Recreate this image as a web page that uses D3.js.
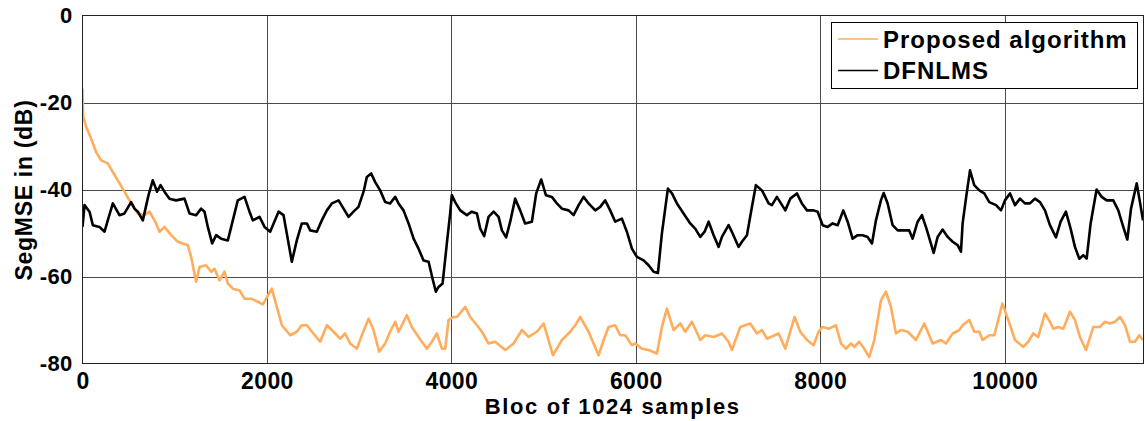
<!DOCTYPE html>
<html>
<head>
<meta charset="utf-8">
<script src="https://cdn.jsdelivr.net/npm/d3@7"></script>
<style>
  html, body { margin: 0; padding: 0; background: #fff; }
  svg { display: block; }
  text { font-family: "Liberation Sans", Arial, sans-serif; font-weight: bold; fill: #000; }
</style>
</head>
<body>
<svg id="chart" width="1145" height="421"></svg>
<script>
// Axis ticks
const xTicks = [0, 2000, 4000, 6000, 8000, 10000];
const yTicks = [0, -20, -40, -60, -80];
const xMax = 11500;

// Series labels
const seriesNames = ["Proposed algorithm", "DFNLMS"];

// SegMSE (dB) per block: [block index, value]
const proposed = [
  [0,-16.8],[8,-23.3],[39,-25.6],[93,-28.3],[148,-31.4],[202,-33.3],[274,-34.0],[329,-36.0],[401,-38.6],[455,-40.5],
  [527,-43.2],[600,-45.5],[672,-45.9],[727,-45.1],[798,-47.8],[835,-49.7],[889,-48.6],[961,-50.5],[1034,-52.0],[1088,-52.4],
  [1142,-52.8],[1178,-55.5],[1232,-61.2],[1269,-57.8],[1341,-57.4],[1395,-58.9],[1432,-58.2],[1486,-60.9],[1540,-58.9],[1576,-61.6],
  [1630,-62.8],[1703,-63.2],[1757,-65.1],[1829,-65.1],[1901,-65.8],[1956,-66.4],[2053,-62.8],[2107,-67.0],[2162,-71.2],[2252,-73.5],
  [2324,-72.7],[2378,-71.2],[2433,-71.2],[2487,-72.7],[2577,-75.0],[2650,-71.2],[2722,-72.7],[2794,-74.3],[2848,-73.1],[2902,-75.4],
  [2975,-76.6],[3029,-73.5],[3102,-69.7],[3156,-72.3],[3217,-77.3],[3282,-75.4],[3336,-72.7],[3391,-70.4],[3427,-72.7],[3463,-71.2],
  [3517,-68.9],[3571,-71.6],[3644,-73.9],[3734,-76.6],[3788,-75.0],[3843,-73.1],[3897,-76.6],[3933,-76.6],[3970,-70.0],[4024,-69.3],
  [4060,-69.3],[4150,-67.0],[4204,-69.3],[4277,-71.2],[4331,-72.7],[4403,-75.4],[4475,-75.0],[4584,-76.9],[4675,-75.4],[4765,-72.3],
  [4837,-73.9],[4927,-72.7],[5000,-70.8],[5101,-78.1],[5199,-74.6],[5289,-72.7],[5343,-71.2],[5397,-69.3],[5488,-72.7],[5596,-78.1],
  [5651,-74.6],[5705,-71.6],[5777,-71.2],[5831,-73.5],[5885,-73.5],[5958,-75.8],[5994,-75.4],[6066,-76.6],[6139,-76.9],[6229,-77.7],
  [6283,-71.6],[6337,-67.4],[6410,-72.3],[6482,-70.8],[6536,-72.7],[6609,-70.4],[6699,-74.6],[6753,-73.5],[6844,-73.9],[6934,-73.1],
  [7006,-75.0],[7042,-76.9],[7133,-71.6],[7241,-70.8],[7313,-73.1],[7368,-72.3],[7422,-74.3],[7549,-73.1],[7621,-76.6],[7722,-69.3],
  [7783,-72.7],[7856,-74.6],[7928,-75.8],[7982,-72.7],[8026,-71.6],[8098,-72.0],[8170,-71.2],[8225,-75.4],[8279,-76.6],[8333,-75.4],
  [8369,-76.2],[8423,-75.0],[8477,-76.6],[8532,-78.5],[8586,-74.6],[8658,-65.5],[8712,-63.5],[8767,-67.0],[8821,-73.1],[8875,-72.3],
  [8948,-72.7],[9038,-74.6],[9128,-70.8],[9219,-75.4],[9309,-74.6],[9363,-75.4],[9436,-73.1],[9508,-72.3],[9544,-71.2],[9616,-70.0],
  [9670,-72.7],[9725,-72.7],[9761,-74.6],[9833,-73.5],[9888,-73.5],[9975,-66.2],[10039,-70.0],[10112,-74.6],[10202,-76.2],[10256,-75.0],
  [10310,-73.1],[10364,-73.9],[10437,-68.5],[10491,-70.4],[10527,-72.0],[10581,-71.6],[10636,-72.0],[10708,-68.1],[10762,-70.0],[10816,-73.9],
  [10882,-76.9],[10961,-71.6],[11034,-71.6],[11088,-70.4],[11142,-70.8],[11196,-70.4],[11251,-69.3],[11305,-71.2],[11359,-75.0],[11413,-75.0],
  [11460,-73.5],[11500,-74.6]
];

const dfnlms = [
  [0,-48.6],[22,-43.6],[76,-45.1],[112,-48.2],[184,-48.6],[239,-49.7],[274,-47.1],[329,-43.2],[401,-45.9],[455,-45.5],
  [527,-42.9],[564,-44.4],[600,-45.1],[654,-47.1],[716,-41.3],[762,-37.9],[809,-40.5],[846,-39.0],[889,-40.5],[943,-42.1],
  [1015,-42.5],[1106,-42.1],[1160,-45.5],[1232,-45.9],[1286,-44.4],[1323,-45.1],[1359,-48.6],[1406,-52.4],[1449,-50.5],[1503,-51.3],
  [1576,-51.7],[1630,-47.1],[1684,-42.5],[1757,-41.7],[1811,-45.1],[1847,-47.1],[1920,-46.3],[1974,-48.6],[2035,-49.7],[2126,-45.1],
  [2180,-45.9],[2270,-56.6],[2324,-51.7],[2378,-47.8],[2433,-47.8],[2469,-49.4],[2541,-49.7],[2595,-47.1],[2650,-44.8],[2704,-43.2],
  [2777,-42.5],[2831,-44.4],[2885,-46.3],[2939,-45.1],[2993,-44.0],[3048,-40.5],[3084,-37.1],[3130,-36.3],[3174,-38.3],[3228,-40.2],
  [3282,-42.9],[3336,-43.2],[3391,-41.7],[3427,-43.2],[3481,-44.8],[3536,-47.8],[3590,-51.3],[3644,-53.6],[3698,-56.3],[3753,-56.6],
  [3796,-60.5],[3832,-63.5],[3861,-62.4],[3905,-61.6],[3951,-52.4],[3987,-45.5],[4005,-41.3],[4041,-42.9],[4096,-44.8],[4168,-45.9],
  [4222,-45.1],[4277,-45.5],[4313,-49.0],[4356,-50.7],[4403,-46.3],[4458,-45.1],[4512,-46.3],[4548,-49.4],[4594,-51.0],[4638,-47.4],
  [4692,-42.1],[4746,-44.8],[4800,-47.8],[4873,-47.4],[4920,-40.9],[4974,-37.7],[5025,-41.3],[5090,-41.7],[5144,-43.2],[5199,-44.4],
  [5271,-44.8],[5325,-45.9],[5380,-43.6],[5434,-41.7],[5488,-43.2],[5560,-44.8],[5614,-44.0],[5668,-42.5],[5722,-44.8],[5777,-47.4],
  [5849,-46.7],[5903,-49.7],[5958,-53.6],[6012,-55.5],[6085,-56.3],[6139,-57.4],[6193,-58.9],[6240,-59.2],[6283,-50.1],[6348,-39.8],
  [6392,-40.9],[6446,-43.2],[6518,-45.5],[6590,-47.8],[6644,-49.0],[6699,-50.9],[6746,-49.7],[6790,-47.4],[6844,-50.5],[6898,-53.2],
  [6934,-50.9],[7006,-48.2],[7050,-50.1],[7115,-53.2],[7151,-52.0],[7205,-50.5],[7259,-44.0],[7302,-39.0],[7368,-40.2],[7440,-43.2],
  [7476,-43.6],[7530,-41.7],[7621,-44.8],[7675,-42.1],[7747,-40.9],[7801,-43.2],[7856,-44.8],[7928,-44.8],[7972,-45.1],[8026,-48.2],
  [8080,-48.6],[8134,-47.8],[8189,-48.2],[8250,-44.8],[8297,-47.4],[8351,-51.3],[8406,-50.5],[8460,-50.5],[8514,-50.9],[8561,-52.4],
  [8604,-47.1],[8658,-42.5],[8688,-40.8],[8731,-43.2],[8785,-48.2],[8840,-49.4],[8911,-49.4],[8965,-49.4],[9002,-51.3],[9056,-47.4],
  [9103,-45.9],[9146,-48.6],[9190,-51.7],[9230,-54.6],[9273,-50.9],[9327,-49.2],[9382,-50.9],[9436,-52.0],[9490,-52.8],[9526,-54.3],
  [9544,-47.8],[9580,-42.1],[9624,-35.6],[9670,-39.0],[9725,-40.2],[9779,-40.9],[9833,-42.9],[9906,-43.6],[9960,-44.8],[10003,-42.5],
  [10058,-40.9],[10112,-43.6],[10166,-42.1],[10220,-43.2],[10274,-43.2],[10328,-42.1],[10383,-42.9],[10437,-44.8],[10491,-48.2],[10556,-51.0],
  [10607,-47.4],[10664,-45.1],[10715,-49.0],[10762,-53.2],[10809,-55.9],[10852,-55.1],[10889,-55.9],[10932,-47.8],[10997,-40.0],[11052,-41.7],
  [11106,-42.5],[11178,-42.5],[11232,-44.8],[11286,-48.6],[11330,-51.5],[11370,-44.4],[11432,-38.6],[11467,-42.9],[11500,-47.1]
];

const seriesColors = ["#ffad5c", "#000000"];

const svg = d3.select("#chart");
const plot = { left: 82.5, right: 1143, top: 15.5, bottom: 363.5 };

const x = d3.scaleLinear().domain([0, xMax]).range([plot.left, plot.right]);
const y = d3.scaleLinear().domain([-80, 0]).range([plot.bottom, plot.top]);

// Grid
const grid = svg.append("g").attr("shape-rendering", "crispEdges");
grid.selectAll(".vg").data(xTicks.filter(d => d > 0)).join("line")
  .attr("x1", d => Math.round(x(d)) + 0.5).attr("x2", d => Math.round(x(d)) + 0.5)
  .attr("y1", plot.top).attr("y2", plot.bottom)
  .attr("stroke", "#4a4a4a").attr("stroke-width", 1);
grid.selectAll(".hg").data(yTicks.filter(d => d > -80 && d < 0)).join("line")
  .attr("y1", d => Math.round(y(d)) + 0.5).attr("y2", d => Math.round(y(d)) + 0.5)
  .attr("x1", plot.left).attr("x2", plot.right)
  .attr("stroke", "#4a4a4a").attr("stroke-width", 1);

// Clip for the curves
svg.append("clipPath").attr("id", "plotclip").append("rect")
  .attr("x", plot.left).attr("y", plot.top)
  .attr("width", plot.right - plot.left).attr("height", plot.bottom - plot.top);

const line = d3.line().x(d => x(d[0])).y(d => y(d[1]));
const curves = svg.append("g").attr("clip-path", "url(#plotclip)");
[proposed, dfnlms].forEach((s, i) => {
  curves.append("path").datum(s)
    .attr("d", line)
    .attr("fill", "none")
    .attr("stroke", seriesColors[i])
    .attr("stroke-width", 2.6)
    .attr("stroke-linejoin", "round");
});

// Frame
svg.append("rect")
  .attr("x", plot.left).attr("y", plot.top)
  .attr("width", plot.right - plot.left).attr("height", plot.bottom - plot.top)
  .attr("fill", "none").attr("stroke", "#222").attr("stroke-width", 1)
  .attr("shape-rendering", "crispEdges");

// Axes (labels only, MATLAB-style)
const xAxis = svg.append("g")
  .attr("transform", `translate(0,${plot.bottom})`)
  .call(d3.axisBottom(x).tickValues(xTicks).tickSize(0).tickPadding(8).tickFormat(d3.format("d")));
xAxis.select(".domain").remove();
xAxis.selectAll("text").attr("font-size", 23).attr("font-family", "Liberation Sans, Arial, sans-serif")
  .attr("font-weight", "bold").attr("fill", "#000").attr("letter-spacing", "0.4px").attr("dy", "0.75em");

const yAxis = svg.append("g")
  .attr("transform", `translate(${plot.left},0)`)
  .call(d3.axisLeft(y).tickValues(yTicks).tickSize(0).tickPadding(10).tickFormat(d => d === 0 ? "0" : "-" + Math.abs(d)));
yAxis.select(".domain").remove();
yAxis.selectAll("text").attr("font-size", 22).attr("font-family", "Liberation Sans, Arial, sans-serif")
  .attr("font-weight", "bold").attr("fill", "#000").attr("letter-spacing", "0.3px");

// Axis titles
svg.append("text")
  .attr("x", (plot.left + plot.right) / 2).attr("y", 414)
  .attr("text-anchor", "middle").attr("font-size", 22).attr("letter-spacing", "1.6px")
  .text("Bloc of 1024 samples");
svg.append("text")
  .attr("transform", "translate(32,190) rotate(-90)")
  .attr("text-anchor", "middle").attr("font-size", 23).attr("letter-spacing", "0.7px")
  .text("SegMSE in (dB)");

// Legend
const legend = svg.append("g");
legend.append("rect")
  .attr("x", 831.5).attr("y", 22.5).attr("width", 306).attr("height", 66)
  .attr("fill", "#fff").attr("stroke", "#000").attr("stroke-width", 1)
  .attr("shape-rendering", "crispEdges");
seriesNames.forEach((name, i) => {
  const ly = 39 + i * 31.5;
  legend.append("line")
    .attr("x1", 838).attr("x2", 878).attr("y1", ly).attr("y2", ly)
    .attr("stroke", seriesColors[i]).attr("stroke-width", 1.6);
  legend.append("text")
    .attr("x", 883).attr("y", ly + 8.5)
    .attr("font-size", 24).attr("letter-spacing", "1px")
    .text(name);
});
</script>
</body>
</html>
